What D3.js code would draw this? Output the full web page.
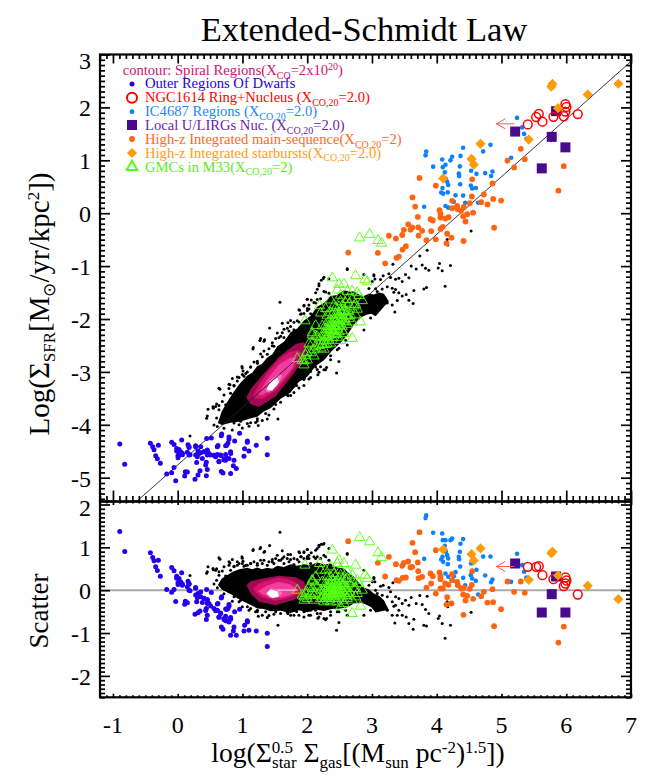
<!DOCTYPE html>
<html><head><meta charset="utf-8">
<script src="https://cdn.jsdelivr.net/npm/d3@7/dist/d3.min.js"></script>
<style>html,body{margin:0;padding:0;background:#fff}svg{display:block}text{font-family:"Liberation Serif",serif}</style>
</head><body><svg id="c" width="664" height="775"></svg>
<script>
// Every point is [log(Sstar^0.5 Sgas), scatter about the fit]; the upper panel adds the fit back.
const fitSlope = 1.09, fitIntercept = -4.76;
const xTicks = [-1,0,1,2,3,4,5,6,7];
const mainYTicks = [-5,-4,-3,-2,-1,0,1,2,3];
const scatterYTicks = [-2,-1,0,1,2];
const legendLabels = ["Outer Regions Of Dwarfs","NGC1614 Ring+Nucleus","IC4687 Regions","Local U/LIRGs Nuc.","High-z Integrated main-sequence","High-z Integrated starbursts","GMCs in M33"];

const dwarfs = [[-0.895,1.371],[-0.818,0.904],[-0.422,0.873],[-0.386,0.764],[-0.366,0.686],[-0.299,0.701],[-0.34,0.545],[-0.314,0.46],[-0.268,0.327],[-0.093,0.53],[-0.057,0.452],[0.061,0.405],[-0.016,0.327],[0.02,0.273],[0.005,0.172],[0.046,0.195],[0.072,0.117],[0.159,0.21],[0.175,0.14],[0.149,0.078],[0.277,0.063],[0.19,-0.015],[-0.17,0.016],[-0.057,0.016],[-0.093,-0.047],[-0.031,-0.265],[0.118,-0.257],[0.149,-0.296],[0.108,-0.327],[0.447,0.016],[0.519,-0.054],[0.313,-0.078],[0.355,-0.156],[0.406,-0.194],[0.457,-0.233],[0.293,-0.272],[0.483,-0.311],[0.442,-0.428],[0.344,-0.483],[0.313,-0.529],[0.267,-0.561],[0.56,-0.428],[0.612,-0.467],[0.622,-0.311],[0.679,-0.156],[0.792,-0.335],[0.776,-0.428],[0.756,-0.452],[0.663,-0.545],[0.637,-0.623],[0.715,-0.662],[0.74,-0.716],[0.817,-0.638],[0.792,-0.74],[0.869,-0.857],[0.674,-0.857],[0.699,-0.911],[0.879,-0.506],[0.956,-0.444],[1.075,-0.716],[1.033,-0.818],[0.859,-0.95],[0.817,-1.051],[0.905,-1.051],[1.023,-0.95],[1.1,-0.934],[1.213,-0.95],[1.383,-1.004],[1.383,-1.316],[0.457,-0.584],[0.442,-0.685],
[-0.016,0.281],[0.02,0.166],[0.072,0.142],[0.005,0.133],[0.175,-0.003],[0.277,-0.115],[0.329,-0.139],[0.406,-0.191],[0.457,-0.311],[0.38,-0.29],[0.303,-0.174],[0.509,-0.367],[0.586,-0.482],[0.663,-0.535],[0.74,-0.606],[0.818,-0.672],[0.766,-0.711],[0.715,-0.685],[0.637,-0.633],[0.457,-0.216],[0.355,-0.04],[0.277,0.044],[0.175,0.156],[0.612,-0.32],[0.74,-0.441],[0.792,-0.372],[0.673,-0.18],[1.075,-0.743],[0.432,-0.472]];
const highzMS = [[3.734,1.355],[3.626,1.106],[3.986,0.935],[3.667,0.888],[3.261,0.779],[3.091,0.639],[3.369,0.608],[3.467,0.569],[3.492,0.639],[3.559,0.67],[3.708,0.647],[3.595,0.53],[3.621,0.545],[3.714,0.444],[3.204,0.32],[3.379,0.234],[3.415,0.218],[3.472,0.288],[3.523,0.296],[3.719,0.281],[3.775,0.312],[3.904,0.39],[3.94,0.327],[4.043,0.413],[4.058,0.327],[4.058,0.257],[4.238,0.374],[4.238,0.234],[4.547,0.444],[3.842,0.062],[3.914,0.156],[4.058,0.039],[4.094,0.039],[4.13,0.156],[4.182,0.125],[4.315,0.195],[4.326,0.117],[4.377,0.039],[4.418,0.062],[4.511,0.031],[4.542,0.125],[3.986,-0.078],[4.161,-0.163],[4.151,-0.335],[4.228,-0.311],[4.408,-0.101],[4.47,-0.132],[4.444,-0.241],[4.562,-0.202],[4.686,-0.14],[4.727,-0.039],[4.861,0.023],[4.784,-0.288],[4.871,-0.28],[4.994,-0.444],[4.413,-0.576],[4.886,-0.841],[5.092,0.203],[5.298,0.203],[5.195,-0.039],[5.36,-0.062],[5.879,-1.223],[5.962,-0.849],[2.633,1.145]];
const ic4687 = [[3.837,1.745],[3.827,1.682],[3.945,1.34],[4.084,1.324],[4.094,1.168],[4.135,1.168],[4.212,1.168],[4.238,1.207],[4.408,1.192],[4.367,1.083],[4.125,1.036],[4.141,0.896],[4.161,0.818],[3.806,0.732],[4.069,0.717],[4.089,0.779],[4.099,0.662],[4.177,0.74],[4.171,0.608],[4.357,0.896],[4.341,0.779],[4.346,0.724],[4.362,0.553],[4.531,0.623],[4.717,0.787],[4.83,0.787],[4.614,0.475],[4.526,0.351],[4.547,0.273],[4.748,0.343],[4.861,0.249],[4.84,0.187],[4.604,0.218],[4.408,0.288],[4.135,0.39],[4.177,0.312],[4.29,0.421],[4.264,0.327],[4.439,0.117],[5.241,0.849],[5.319,0.584],[5.349,0.429],[5.385,0.296],[5.149,0.195],[4.64,-0.101]];
const starbursts = [[4.099,0.95],[4.537,0.841],[4.676,0.974],[4.573,0.693],[5.787,0.896],[5.77,0.865],[5.874,0.343],[5.421,0.242],[6.332,0.101],[6.805,-0.21]];
const ulirgs = [[5.211,0.623],[5.843,0.32],[5.776,-0.093],[5.622,-0.521],[5.987,-0.521]];
const ngc1614 = [[5.406,0.545],[5.535,0.545],[5.576,0.561],[5.632,0.351],[5.802,0.257],[5.987,0.296],[6.003,0.226],[5.987,0.156],[5.962,0.094],[6.178,-0.101]];
const gmcs = [[1.847,0],[2.809,1.231],[2.963,1.129],[2.387,0.935],[3.092,0.872],[3.148,0.763],[1.965,0.584],[2.191,0.623],[2.49,0.701],[2.567,0.623],[2.747,0.584],[2.891,0.351],[2.927,0.273],[2.464,0.623],[2.361,0.545],[2.284,0.467],[2.207,0.467],[2.31,0.312],[2.413,0.39],[2.515,0.467],[2.618,0.428],[2.695,0.351],[2.773,0.234],[2.13,0.312],[2.078,0.234],[2.027,0.078],[1.975,-0.078],[2.052,-0.117],[2.155,0.078],[2.233,0.195],[2.335,0.156],[2.438,0.195],[2.541,0.234],[2.644,0.156],[2.721,0.039],[2.798,0.156],[2.85,0],[2.13,-0.078],[2.207,0],[2.284,-0.039],[2.361,0.039],[2.413,0],[2.464,0.078],[2.515,0.039],[2.593,0],[2.67,-0.078],[2.747,-0.156],[2.104,-0.234],[2.207,-0.195],[2.31,-0.156],[2.387,-0.117],[2.464,-0.117],[2.541,-0.156],[2.618,-0.195],[2.695,-0.234],[2.258,-0.272],[2.361,-0.272],[2.464,-0.272],[2.567,-0.311],[2.824,-0.374],[2.695,-0.545],[2.515,-0.389],[2.335,-0.039],[2.387,0.078],[2.438,-0.039],[2.49,-0.078],[2.413,-0.156],[2.335,-0.195],[2.284,0.078],[2.49,0.273],[2.593,0.234],[2.31,0.039],[2.335,-0.093],[2.361,-0.016],[2.387,-0.062],[2.413,-0.093],[2.438,0.062],[2.464,-0.016],[2.49,0.016],[2.515,-0.062],[2.541,-0.023],[2.567,-0.078],[2.31,-0.093],[2.258,-0.117],[2.438,-0.093],[2.361,0.117],[2.464,0.156],[2.413,0.117],[2.515,0.156],[2.567,0.117],[2.618,0.039],[2.181,-0.117],[2.233,-0.156],[2.258,0],[2.274,-0.195],[2.31,-0.234],[2.387,-0.195],[2.438,-0.195],[2.49,-0.195],[2.541,-0.234],[2.593,-0.117],[2.618,-0.039],[2.644,-0.117],[2.593,0.078],[2.541,0.117],[2.49,0.117],[2.335,0.078],[2.284,0.156],[2.387,0.234],[2.438,0.312],[2.361,0.312],[2.515,0.351],[2.618,0.273],[2.695,0.195],[2.747,0.039],[2.773,-0.078],[2.13,0.117],[2.078,0.039],[2.104,-0.117],[2.001,-0.195],[1.924,-0.117],[1.95,-0.234],[1.949,-0.156],[1.99,-0.039],[2.078,0.195]];
const spiralPoints = [[1.579,1.355],[1.167,0.95],[1.28,0.997],[1.342,0.904],[1.419,1.044],[1.615,0.919],[1.743,0.834],[1.702,0.834],[1.949,0.88],[2.001,0.95],[2.062,0.873],[2.155,0.974],[2.217,1.075],[2.248,1.075],[2.181,1.013],[0.992,0.779],[0.792,0.662],[0.843,0.717],[0.637,0.756],[0.545,0.507],[0.601,0.499],[0.468,0.545],[0.457,0.429],[0.19,0.343],[0.869,0.561],[1.538,0.818],[1.563,0.701],[1.692,0.74],[1.795,0.74],[1.872,0.896],[1.908,0.779],[2.618,0.857],[2.489,-0.755],[2.453,-0.934],[1.548,-0.818],[1.244,-0.607],[1.383,-0.638],[1.702,-0.545],[1.949,-0.623],[2.026,-0.584],[2.181,-0.623],[2.258,-0.662],[2.299,-0.662],[2.618,-0.584],[2.052,-0.467],[2.361,-0.584],[0.92,0.584],[1.023,0.561],[1.126,0.623],[1.178,0.662],[1.332,0.701],[1.461,0.717],[1.641,0.779],[2.001,0.779],[2.103,0.779],[2.335,0.701],[0.715,0.545],[0.637,0.351],[0.601,0.234],[0.817,0.467],[0.972,-0.233],[1.075,-0.389],[1.229,-0.506],[1.486,-0.561],[1.795,-0.584],[2.155,-0.545],[1.949,-0.506],[3.029,0.296],[3.004,0.195],[3.132,0.094],[3.173,0.117],[3.261,0.062],[3.323,0.171],[3.287,-0.039],[3.364,-0.156],[3.415,-0.194],[3.467,-0.311],[3.518,-0.233],[3.606,-0.171],[3.739,-0.124],[3.852,-0.14],[3.683,-0.311],[3.775,-0.335],[3.57,-0.35],[3.338,-0.374],[3.415,-0.467],[3.312,-0.584],[3.39,-0.584],[3.467,-0.584],[3.528,-0.623],[3.647,-0.678],[3.353,-0.763],[3.57,-0.779],[3.636,-0.911],[3.801,-0.818],[3.842,-0.833],[4.043,-0.6],[4.022,-0.662],[4.084,-0.779],[4.212,-0.818],[4.13,-1.121],[4.161,-0.272],[4.171,-0.389],[3.827,-0.452],[3.878,-0.545],[4.531,-0.514],
[0.447,0.397],[0.55,0.475],[0.586,0.467],[0.637,0.43],[0.689,0.449],[0.74,0.33],[0.653,0.722],[0.807,0.637],[0.997,0.746],[1.162,0.926],[1.27,0.967],[1.332,0.887],[0.56,0.147],[0.612,0.059],[0.714,-0.085],[0.843,-0.256],[1.409,-0.589],[1.692,-0.517],[1.836,-0.497],[1.959,-0.493],[2.165,-0.654],[2.283,-0.688],
[0.792,0.584],[0.87,0.545],[0.947,0.623],[1.008,0.678],[1.05,0.584],[1.127,0.623],[1.23,0.584],[1.307,0.623],[1.384,0.584],[1.461,0.662],[1.513,0.74],[1.59,0.701],[1.641,0.623],[1.718,0.662],[1.795,0.6],[1.873,0.662],[2.001,0.74],[2.053,0.623],[0.844,0.351],[0.792,0.234],[0.767,0.117],[0.792,-0.039],[0.87,-0.156],[0.947,-0.272],[0.998,-0.389],[1.101,-0.467],[1.23,-0.467],[1.358,-0.506],[1.513,-0.506],[1.667,-0.467],[1.796,-0.467],
[1.883,0.872],[1.95,0.896],[2.001,0.95],[2.13,0.935],[2.181,1.051],[2.258,1.09],[2.335,0.974],[2.618,0.841],[1.898,0.779],[2.027,0.74],[2.155,0.779],[2.284,0.779],[2.875,0.467],[3.03,0.273],[3.045,0.195],[2.953,0.117],[3.056,0],[3.081,-0.078],[3.158,-0.117],[3.236,-0.156],[3.133,-0.234],[3.313,-0.272],[3.364,-0.35],[1.924,-0.389],[2.027,-0.428],[2.13,-0.467],[2.258,-0.428],[2.361,-0.506],[2.464,-0.506],[2.593,-0.467],[2.798,-0.272],[2.927,-0.195],[2.978,-0.272],[3.107,-0.35],[3.236,-0.467],[2.978,-0.467],[2.875,-0.584],
[0.92,0.662],[0.998,0.623],[1.075,0.584],[1.229,0.623],[1.28,0.701],[1.409,0.662],[1.486,0.623],[1.615,0.74],[1.743,0.717],[1.846,0.717],[1.949,0.74],[2.026,0.818],[2.129,0.74],[2.206,0.74],[2.258,0.818],[1.126,-0.428],[1.203,-0.506],[1.306,-0.584],[1.589,-0.545],[1.743,-0.584],[1.872,-0.584],[2.052,-0.584],[2.206,-0.545],[2.489,-0.506]];
const spiralEnvelope = [[0.62,0.12],[0.68,0.273],[0.76,0.351],[0.85,0.429],[0.95,0.49],[1.075,0.522],[1.15,0.49],[1.229,0.53],[1.3,0.49],[1.383,0.525],[1.46,0.5],[1.538,0.569],[1.64,0.54],[1.743,0.608],[1.85,0.57],[1.949,0.608],[2.05,0.58],[2.155,0.647],[2.26,0.6],[2.361,0.623],[2.46,0.53],[2.566,0.506],[2.65,0.39],[2.721,0.312],[2.8,0.17],[2.875,0.062],[2.95,0.02],[3.029,-0.078],[3.11,-0.13],[3.184,-0.233],[3.261,-0.46],[3.18,-0.48],[3.056,-0.52],[2.99,-0.4],[2.93,-0.35],[2.83,-0.29],[2.721,-0.311],[2.62,-0.4],[2.515,-0.428],[2.38,-0.44],[2.258,-0.483],[2.13,-0.45],[2.001,-0.514],[1.87,-0.47],[1.743,-0.53],[1.59,-0.48],[1.435,-0.491],[1.33,-0.44],[1.229,-0.428],[1.12,-0.34],[1.023,-0.272],[0.92,-0.19],[0.817,-0.09],[0.68,0.016]];
const contourLevel1 = [[1.06,0.117],[1.127,0.21],[1.307,0.273],[1.564,0.335],[1.821,0.304],[1.95,0.195],[2.001,0.039],[1.95,-0.117],[1.77,-0.233],[1.513,-0.35],[1.255,-0.272],[1.127,-0.078]];
const contourLevel2 = [[1.163,0.039],[1.255,0.156],[1.384,0.234],[1.564,0.288],[1.718,0.257],[1.847,0.156],[1.914,0.039],[1.847,-0.101],[1.667,-0.195],[1.513,-0.249],[1.307,-0.171],[1.204,-0.054]];
const contourLevel3 = [[1.24,-0.023],[1.384,0.117],[1.564,0.195],[1.744,0.133],[1.837,0.023],[1.77,-0.101],[1.59,-0.171],[1.41,-0.148],[1.307,-0.101]];
const contourLevel4 = [[1.358,-0.078],[1.435,0.039],[1.564,0.023],[1.615,-0.078],[1.538,-0.179],[1.41,-0.171]];
const contourLevel5 = [[1.373,-0.07],[1.435,0.016],[1.54,-0.03],[1.563,-0.14],[1.46,-0.19]];
const ngcLimitX = [5.2,4.92];
const ngcLimitMainY = 1.69, ngcLimitScatterY = 0.553;

const svg = d3.select("#c");
const x = d3.scaleLinear().domain([-1.2,7]).range([100,631]);
const yMain = d3.scaleLinear().domain([-5.45,3]).range([501.5,54.5]);
const yScat = d3.scaleLinear().domain([-2.5,2.07]).range([697.3,501.5]);
const fit = v => fitSlope*v + fitIntercept;

svg.append("defs").selectAll("clipPath").data([["cm",yMain],["cs",yScat]]).join("clipPath").attr("id",d=>d[0])
  .append("rect").attr("x",100).attr("width",531).attr("y",d=>d[1].range()[1]).attr("height",d=>d[1].range()[0]-d[1].range()[1]);

const C = {dw:"#2400ee",ms:"#ff6410",ic:"#0a82ff",sb:"#ff9a08",ul:"#4a0a8c",ng:"#ff0000",gm:"#55ff11"};
const triangle = d3.symbol().type(d3.symbolTriangle);
const squareSym = d3.symbol().type(d3.symbolSquare);

function panel(id, yS, toY, isMain){
  const g = svg.append("g").attr("clip-path",`url(#${id})`);
  const px = d => x(d[0]), py = d => yS(toY(d));
  const poly = d3.line().x(px).y(py).curve(d3.curveLinearClosed);
  if(!isMain) g.append("line").attr("x1",x.range()[0]).attr("x2",x.range()[1]).attr("y1",yS(0)).attr("y2",yS(0)).attr("stroke","#aaa").attr("stroke-width",2);
  g.append("path").attr("d",poly(spiralEnvelope)).attr("fill","#000");
  g.selectAll(".k").data(spiralPoints).join("circle").attr("cx",px).attr("cy",py).attr("r",1.5).attr("fill","#000");
  [[contourLevel1,"#a00a50"],[contourLevel2,"#d6146e"],[contourLevel3,"#f23c9e"],[contourLevel4,"#ff78c0"],[contourLevel5,"#ffffff"]].forEach(c=>
    g.append("path").attr("d",poly(c[0])).attr("fill",c[1]));
  if(isMain) g.append("line").attr("x1",x(-1.2)).attr("x2",x(7)).attr("y1",yS(fit(-1.2))).attr("y2",yS(fit(7))).attr("stroke","#222").attr("stroke-width",0.9);
  else g.append("line").attr("x1",x(1.55)).attr("x2",x(1.85)).attr("y1",yS(0)).attr("y2",yS(0)).attr("stroke","#ffc0e0").attr("stroke-width",1.2);
  const dots=(data,r,col)=>g.append("g").selectAll("circle").data(data).join("circle").attr("cx",px).attr("cy",py).attr("r",r).attr("fill",col);
  dots(dwarfs,2.5,C.dw);
  dots(ic4687,2.3,C.ic);
  g.append("g").selectAll("rect").data(ulirgs).join("rect").attr("x",d=>px(d)-5).attr("y",d=>py(d)-5).attr("width",10).attr("height",10).attr("fill",C.ul);
  dots(highzMS,2.9,C.ms);
  g.append("g").selectAll("circle").data(ngc1614).join("circle").attr("cx",px).attr("cy",py).attr("r",4.4).attr("fill","none").attr("stroke",C.ng).attr("stroke-width",1.5);
  g.append("g").selectAll("path").data(starbursts).join("path").attr("d",squareSym.size(52)()).attr("transform",d=>`translate(${px(d)},${py(d)}) rotate(45)`).attr("fill",C.sb);
  g.append("g").selectAll("path").data(gmcs).join("path").attr("d",triangle.size(46)()).attr("transform",d=>`translate(${px(d)},${py(d)})`).attr("fill","none").attr("stroke",C.gm).attr("stroke-width",0.9);
  const ay = yS(isMain?ngcLimitMainY:ngcLimitScatterY), tip=x(ngcLimitX[1]);
  g.append("path").attr("d",`M${x(ngcLimitX[0])},${ay}L${tip},${ay}M${tip+9},${ay-5}L${tip},${ay}L${tip+9},${ay+5}`).attr("fill","none").attr("stroke","#ff5a5a").attr("stroke-width",1);
}
panel("cm",yMain,d=>fit(d[0])+d[1],true);
panel("cs",yScat,d=>d[1],false);

function frange(a,b,s){const o=[];for(let i=Math.ceil(a/s-1e-9);i*s<=b+1e-9;i++)o.push(+(i*s).toFixed(3));return o;}
function axes(yS,majorY,hMaj,hMin,hTop,hTopMin){
  const l=x.range()[0], r=x.range()[1], t=yS.range()[1], b=yS.range()[0];
  const minorX=frange(-1.2,7,0.1).filter(v=>!xTicks.includes(v));
  const minorY=frange(yS.domain()[0],yS.domain()[1],0.1).filter(v=>!majorY.includes(v));
  const style=s=>{s.select(".domain").remove();s.selectAll("line").attr("stroke","#000").attr("stroke-width",1.7);s.selectAll("text").remove();};
  const add=(ax,tr)=>svg.append("g").attr("transform",tr).call(ax).call(style);
  add(d3.axisBottom(x).tickValues(xTicks).tickSize(-hMaj),`translate(0,${b})`);
  add(d3.axisBottom(x).tickValues(minorX).tickSize(-hMin),`translate(0,${b})`);
  add(d3.axisTop(x).tickValues(xTicks).tickSize(-hTop),`translate(0,${t})`);
  add(d3.axisTop(x).tickValues(minorX).tickSize(-hTopMin),`translate(0,${t})`);
  add(d3.axisLeft(yS).tickValues(majorY).tickSize(-10),`translate(${l},0)`);
  add(d3.axisLeft(yS).tickValues(minorY).tickSize(-5),`translate(${l},0)`);
  add(d3.axisRight(yS).tickValues(majorY).tickSize(-10),`translate(${r},0)`);
  add(d3.axisRight(yS).tickValues(minorY).tickSize(-5),`translate(${r},0)`);
  svg.append("rect").attr("x",l).attr("y",t).attr("width",r-l).attr("height",b-t).attr("fill","none").attr("stroke","#000").attr("stroke-width",2.2);
}
axes(yMain,mainYTicks,11,5.5,9,4.5);
axes(yScat,scatterYTicks,3.5,2,3.5,2);

const tickFont=24;
const yLab=(sc,ticks,shift)=>svg.append("g").selectAll("text").data(ticks).join("text").attr("x",91).attr("y",d=>sc(d)+8+shift(d)).attr("text-anchor","end").attr("font-size",tickFont).text(d=>d);
yLab(yMain,mainYTicks,d=>d===3?6:1);
yLab(yScat,scatterYTicks,d=>d===2?4:1);
svg.append("g").selectAll("text").data(xTicks).join("text").attr("x",d=>x(d)).attr("y",733).attr("text-anchor","middle").attr("font-size",tickFont).text(d=>d);

svg.append("text").attr("x",364).attr("y",41).attr("text-anchor","middle").attr("font-size",34.5).text("Extended-Schmidt Law");

svg.append("text").attr("transform","translate(24,611) rotate(-90)").attr("text-anchor","middle").attr("font-size",27).attr("dy",24).text("Scatter");

function rich(t,parts,base){
  let cur=0;
  parts.forEach(p=>{
    const s=p[1]||0, ts=t.append("tspan").text(p[0]).attr("font-size",p[2]||base).attr("dy",s-cur);
    if(p[3]) ts.attr("dx",p[3]);
    cur=s;
  });
}
rich(svg.append("text").attr("transform","translate(49,304) rotate(-90)").attr("text-anchor","middle"),
 [["Log(Σ"],["SFR",6,17],["[M"],["⊙",6,17],["/yr/kpc"],["2",-10,17],["])"]],29);
rich(svg.append("text").attr("x",358).attr("y",762).attr("text-anchor","middle"),
 [["log(Σ"],["0.5",-9,17],["star",6,17,-21],[" Σ"],["gas",6,17],["[(M"],["sun",6,17],[" pc"],["-2",-9,17],[")"],["1.5",-9,17],["])"]],27.6);

const lf=14.6;
const lg=svg.append("g");
const sub=(c,y,xx,extra)=>{const t=lg.append("text").attr("x",xx).attr("y",y).attr("fill",c).attr("font-size",lf);rich(t,extra,lf);};
sub("#d0126e",75,122.7,[["contour: Spiral Regions(X"],["CO",3.5,10],["=2x10"],["20",-5,10],[")"]]);
const xco=(v)=>[["X"],["CO,20",3.5,10],[v]];
sub(C.dw,88.3,145,[[legendLabels[0]]]);
sub(C.ng,102,145,[[legendLabels[1]+" ("],...xco("=2.0)")]);
sub("#1a86ff",116,145,[[legendLabels[2]+" ("],...xco("=2.0)")]);
sub("#6a1fa5",130,145,[[legendLabels[3]+" ("],...xco("=2.0)")]);
sub("#ff6a20",144,145,[[legendLabels[4]+"("],...xco("=2)")]);
sub("#ff9a20",157.5,145,[[legendLabels[5]+"("],...xco("=2.0)")]);
sub("#55ee22",171.5,145,[[legendLabels[6]+"("],...xco("=2)")]);
const mx=132;
lg.append("circle").attr("cx",mx).attr("cy",84).attr("r",2.5).attr("fill",C.dw);
lg.append("circle").attr("cx",mx).attr("cy",97.7).attr("r",5).attr("fill","none").attr("stroke",C.ng).attr("stroke-width",2);
lg.append("circle").attr("cx",mx).attr("cy",111.7).attr("r",2.4).attr("fill",C.ic);
lg.append("rect").attr("x",mx-5).attr("y",120).attr("width",10).attr("height",10).attr("fill",C.ul);
lg.append("circle").attr("cx",mx).attr("cy",139).attr("r",2.9).attr("fill",C.ms);
lg.append("path").attr("d",squareSym.size(52)()).attr("transform",`translate(${mx},153) rotate(45)`).attr("fill",C.sb);
lg.append("path").attr("d",triangle.size(50)()).attr("transform",`translate(${mx},167)`).attr("fill","none").attr("stroke",C.gm).attr("stroke-width",2);
</script></body></html>
